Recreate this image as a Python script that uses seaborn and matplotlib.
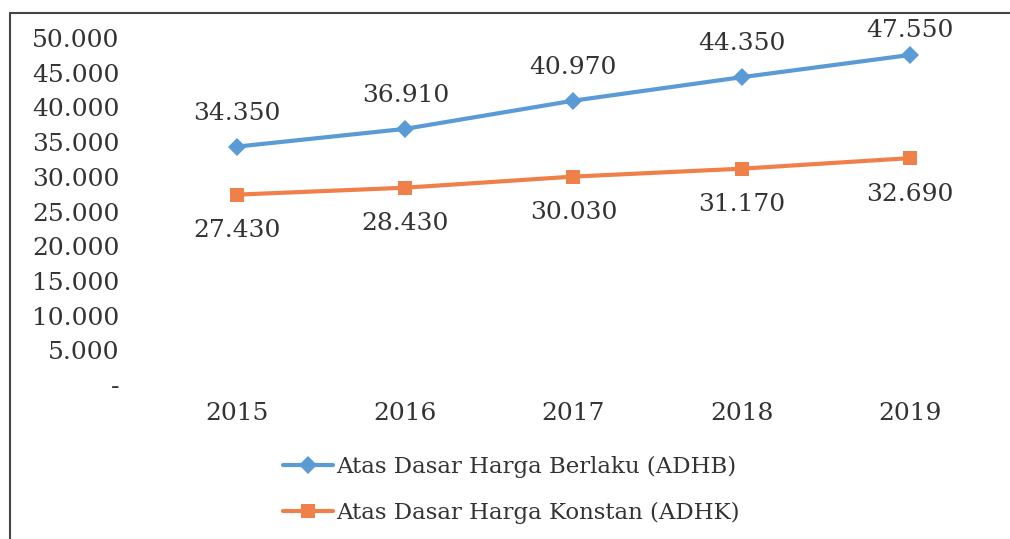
import matplotlib
matplotlib.use("Agg")
import matplotlib.pyplot as plt
import seaborn as sns
import pandas as pd
from matplotlib.lines import Line2D
from matplotlib.ticker import FuncFormatter

years = [2015, 2016, 2017, 2018, 2019]
adhb = [34350, 36910, 40970, 44350, 47550]
adhk = [27430, 28430, 30030, 31170, 32690]
series_names = ["Atas Dasar Harga Berlaku (ADHB)", "Atas Dasar Harga Konstan (ADHK)"]
yticks = [0, 5000, 10000, 15000, 20000, 25000, 30000, 35000, 40000, 45000, 50000]

blue = "#5B9BD5"
orange = "#F0804A"
txt = "#333333"

sns.set_theme(style="white")
plt.rcParams["font.family"] = ["DejaVu Serif"]

df = pd.DataFrame({
    "year": years * 2,
    "value": adhb + adhk,
    "series": [series_names[0]] * len(years) + [series_names[1]] * len(years),
})

fig = plt.figure(figsize=(10.10, 5.39), dpi=100)
ax = fig.add_axes([0.1515, 0.2857, 0.8325, 0.6438])

sns.lineplot(data=df, x="year", y="value", hue="series", style="series",
             palette=[blue, orange], markers=["D", "s"], dashes=False,
             linewidth=3, markersize=9.5, markeredgewidth=0, ax=ax, legend=False)

ax.set_xlim(2014.5, 2019.5)
ax.set_ylim(0, 50000)
ax.set_yticks(yticks)
ax.yaxis.set_major_formatter(FuncFormatter(lambda v, p: "-" if v == 0 else f"{int(v):,}".replace(",", ".")))
ax.set_xticks(years)
ax.set_xticklabels([str(y) for y in years])
ax.tick_params(axis="y", length=0, pad=24, labelsize=18, labelcolor=txt)
ax.tick_params(axis="x", length=0, pad=12, labelsize=18, labelcolor=txt)
ax.set_xlabel("")
ax.set_ylabel("")
for s in ax.spines.values():
    s.set_visible(False)

fmt = lambda v: f"{v:,}".replace(",", ".")
for i, (x, v) in enumerate(zip(years, adhb)):
    off = 18 if i == len(years) - 1 else 24
    ax.annotate(fmt(v), (x, v), xytext=(0, off), textcoords="offset points",
                ha="center", va="center", fontsize=18, color=txt)
for x, v in zip(years, adhk):
    ax.annotate(fmt(v), (x, v), xytext=(0, -26), textcoords="offset points",
                ha="center", va="center", fontsize=18, color=txt)

handles = [Line2D([], [], color=blue, lw=3, marker="D", markersize=9.5, markeredgewidth=0),
           Line2D([], [], color=orange, lw=3, marker="s", markersize=9.5, markeredgewidth=0)]
leg = fig.legend(handles, series_names, loc="center", bbox_to_anchor=(0.506, 0.091),
                 frameon=False, fontsize=16.5, handlelength=2.2, handletextpad=0.1,
                 labelspacing=1.05)
for t in leg.get_texts():
    t.set_color(txt)

# frame lines (left and top border of the scanned chart)
fig.add_artist(Line2D([0.0099, 0.0099], [0.0, 0.976], color="#444444", lw=1.5, transform=fig.transFigure))
fig.add_artist(Line2D([0.0099, 1.0], [0.976, 0.976], color="#444444", lw=1.5, transform=fig.transFigure))

fig.savefig("out.png", dpi=100)
